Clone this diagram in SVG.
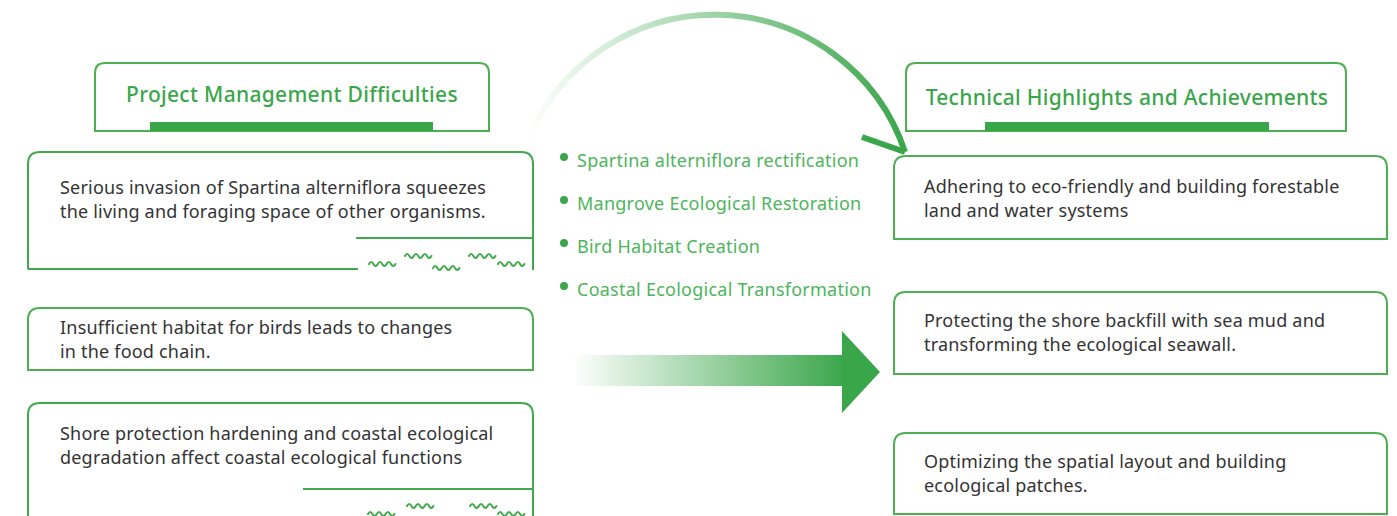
<svg xmlns="http://www.w3.org/2000/svg" width="1397" height="516" viewBox="0 0 1397 516">
<style>
.box{fill:#fff;stroke:#4caf50;stroke-width:2}
.ln{fill:none;stroke:#3fa94b;stroke-width:2}
.wv{fill:none;stroke:#3fa94b;stroke-width:2;stroke-linecap:round}
.bar{fill:#3aa64a}
.title{font-family:"Noto Sans","Liberation Sans",sans-serif;font-size:21px;letter-spacing:0.3px;font-weight:500;fill:#3aa64a;text-anchor:middle}
.txt{font-family:"Noto Sans","Liberation Sans",sans-serif;font-size:18px;letter-spacing:0.2px;fill:#333}
.bul{font-family:"Noto Sans","Liberation Sans",sans-serif;font-size:18px;letter-spacing:0.25px;fill:#4cb55a}
.dot{fill:#3aa64a}
</style>
<defs>
<linearGradient id="gArc" gradientUnits="userSpaceOnUse" x1="527" y1="0" x2="905" y2="0">
<stop offset="0" stop-color="#3aa64a" stop-opacity="0"/>
<stop offset="0.5" stop-color="#3aa64a" stop-opacity="0.5"/>
<stop offset="1" stop-color="#3aa64a" stop-opacity="1"/>
</linearGradient>
<linearGradient id="gBar" gradientUnits="userSpaceOnUse" x1="572" y1="0" x2="846" y2="0">
<stop offset="0" stop-color="#3aa64a" stop-opacity="0"/>
<stop offset="1" stop-color="#3aa64a" stop-opacity="1"/>
</linearGradient>
<path id="wave" d="M0,0 q2.2,-4 4.4,0 t4.4,0 t4.4,0 t4.4,0 t4.4,0 t4.4,0"/>
</defs>

<g id="connectors">
<path d="M527,143 A201,201 0 0 1 905,152" fill="none" stroke="url(#gArc)" stroke-width="6"/>
<path d="M862,137 L905,152" fill="none" stroke="#3aa64a" stroke-width="6"/>
<rect x="572" y="355" width="274" height="31" fill="url(#gBar)"/>
<polygon points="842,331 880,372 842,413" fill="#3aa64a"/>
</g>

<g id="header-left">
<path class="box" d="M95,131 V73 Q95,63 105,63 H479 Q489,63 489,73 V131 Z"/>
<rect class="bar" x="150" y="122" width="283" height="9"/>
<text class="title" x="292" y="102">Project Management Difficulties</text>
</g>

<g id="header-right">
<path class="box" d="M906,131 V73 Q906,63 916,63 H1336 Q1346,63 1346,73 V131 Z"/>
<rect class="bar" x="985" y="122" width="284" height="9"/>
<text class="title" x="1127" y="105">Technical Highlights and Achievements</text>
</g>

<g id="left-1">
<path class="ln" d="M28,269 V164 Q28,152 40,152 H521 Q533,152 533,164 V270"/>
<path class="ln" d="M28,269 H358"/>
<path class="ln" d="M356,238 H533"/>
<use href="#wave" class="wv" x="369" y="264"/>
<use href="#wave" class="wv" x="405" y="256"/>
<use href="#wave" class="wv" x="433" y="268"/>
<use href="#wave" class="wv" x="469" y="256"/>
<use href="#wave" class="wv" x="498" y="264"/>
<text class="txt" x="60" y="194">Serious invasion of Spartina alterniflora squeezes</text>
<text class="txt" x="60" y="218">the living and foraging space of other organisms.</text>
</g>

<g id="left-2">
<path class="box" d="M28,370 V320 Q28,308 40,308 H521 Q533,308 533,320 V370 Z"/>
<text class="txt" x="60" y="334">Insufficient habitat for birds leads to changes</text>
<text class="txt" x="60" y="358">in the food chain.</text>
</g>

<g id="left-3">
<path class="ln" d="M28,520 V415 Q28,403 40,403 H521 Q533,403 533,415 V520"/>
<path class="ln" d="M303,489 H533"/>
<use href="#wave" class="wv" x="368" y="514"/>
<use href="#wave" class="wv" x="407" y="506"/>
<use href="#wave" class="wv" x="470" y="506"/>
<use href="#wave" class="wv" x="498" y="514"/>
<text class="txt" x="60" y="440">Shore protection hardening and coastal ecological</text>
<text class="txt" x="60" y="464">degradation affect coastal ecological functions</text>
</g>

<g id="bullets">
<circle class="dot" cx="564" cy="157" r="4"/>
<text class="bul" x="577" y="167">Spartina alterniflora rectification</text>
<circle class="dot" cx="564" cy="200" r="4"/>
<text class="bul" x="577" y="210">Mangrove Ecological Restoration</text>
<circle class="dot" cx="564" cy="243" r="4"/>
<text class="bul" x="577" y="253">Bird Habitat Creation</text>
<circle class="dot" cx="564" cy="286" r="4"/>
<text class="bul" x="577" y="296">Coastal Ecological Transformation</text>
</g>

<g id="right-1">
<path class="box" d="M894,239 V168 Q894,156 906,156 H1375 Q1387,156 1387,168 V239 Z"/>
<text class="txt" x="924" y="193">Adhering to eco-friendly and building forestable</text>
<text class="txt" x="924" y="217">land and water systems</text>
</g>

<g id="right-2">
<path class="box" d="M894,374 V304 Q894,292 906,292 H1375 Q1387,292 1387,304 V374 Z"/>
<text class="txt" x="924" y="327">Protecting the shore backfill with sea mud and</text>
<text class="txt" x="924" y="351">transforming the ecological seawall.</text>
</g>

<g id="right-3">
<path class="box" d="M894,514 V445 Q894,433 906,433 H1375 Q1387,433 1387,445 V514 Z"/>
<text class="txt" x="924" y="468">Optimizing the spatial layout and building</text>
<text class="txt" x="924" y="492">ecological patches.</text>
</g>
</svg>
